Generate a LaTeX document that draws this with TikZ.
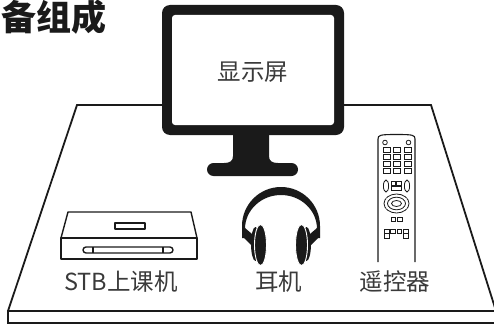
\documentclass[tikz,border=0pt]{standalone}
\usepackage{fontspec}
\usetikzlibrary{calc}
\newfontfamily\cjk{Noto Sans CJK SC}
\definecolor{ink}{HTML}{1A1A1A}
\definecolor{labelgray}{HTML}{3A3A3A}
\begin{document}
\begin{tikzpicture}[x=1pt,y=-1pt,
  tableedge/.style={draw=ink, line width=1.8pt, line join=miter},
  caption/.style={font=\cjk\fontsize{23.5}{26}\selectfont, text=labelgray, inner sep=0pt},
  rline/.style={draw=ink, line width=1.1pt},
  btn/.style={draw=ink, line width=0.8pt},
  boxline/.style={draw=ink, line width=1.4pt, line join=round}]
\useasboundingbox (0,0) rectangle (494,326);

% heading
\node[anchor=base west, font=\cjk\bfseries\fontsize{35}{38}\selectfont, text=ink, inner sep=0pt] (title) at (1,31) {备组成};

% desk: top surface and front slab
\draw[tableedge] (8,311) -- (77,105) -- (431,105) -- (496,311);
\draw[tableedge] (8,311) rectangle (502,323);

% monitor frame, screen, neck and foot
\fill[ink, rounded corners=8] (162,5) rectangle (344,135);
\fill[white, rounded corners=3] (172,15) rectangle (334,125);
\fill[ink] (233,133) -- (233,156) .. controls (233,161) and (230,163) .. (224,163)
  -- (278,163) .. controls (272,163) and (269,161) .. (269,156) -- (269,133) -- cycle;
\fill[ink, rounded corners=6.5] (207,163) rectangle (298,176);
\node[caption] (screen) at (253,72) {显示屏};

% set-top box
\draw[boxline] (61,238) -- (68,212) -- (191,212) -- (197,238) -- cycle;
\draw[boxline] (61,238) rectangle (197,259);
\draw[boxline] (115,223) rectangle (145,229);
\draw[boxline, rounded corners=3] (83,247) rectangle (173,253);
\draw[ink, line width=1.2pt] (93,247) -- (93,253) (163,247) -- (163,253);
\node[caption] (stb) at (121,282) {STB上课机};

% headphones: headband
\fill[ink] (242,238) -- (242,226)
  arc[start angle=180, end angle=360, x radius=39, y radius=39]
  -- (320,238) -- (317,238) -- (317,229)
  arc[start angle=0, end angle=-180, x radius=36, y radius=34]
  -- (245,238) -- cycle;
\fill[ink] (242,236) -- (252,246) -- (252,234) -- (245,228) -- cycle;
\fill[ink] (320,236) -- (310,246) -- (310,234) -- (317,228) -- cycle;
% ear cups
\fill[ink] (255.5,244) ellipse[x radius=4.5, y radius=17];
\filldraw[fill=ink, draw=white, line width=0.9pt] (260.5,245) ellipse[x radius=6, y radius=20.5];
\fill[ink] (306.5,244) ellipse[x radius=4.5, y radius=17];
\filldraw[fill=ink, draw=white, line width=0.9pt] (301.5,245) ellipse[x radius=6, y radius=20.5];
\node[caption] (phones) at (278.5,282) {耳机};

% remote control
\draw[rline, fill=white] (378,262) -- (378,139) .. controls (378,135) and (380,134.5) .. (396.5,134.5)
  .. controls (413,134.5) and (415,135) .. (415,139) -- (415,262);
\draw[btn] (385,142.5) circle[radius=2.3];
\draw[btn] (408.5,142.5) circle[radius=2.3];
\foreach \r in {0,...,3}
  \foreach \c in {0,1,2}
    \draw[btn] ({383+\c*10.5},{147.5+\r*7}) rectangle ++(7,5.3);
\draw[btn] (386,186) ellipse[x radius=2.6, y radius=6];
\draw[btn] (407,186) ellipse[x radius=2.6, y radius=6];
\draw[btn] (391,181) rectangle (395.3,185);
\draw[btn] (396.7,181) rectangle (401,185);
\draw[btn] (391,186.3) rectangle (401,190.5);
\draw[btn] (396.5,203.5) ellipse[x radius=12.5, y radius=9.5];
\draw[btn] (396.5,203.5) ellipse[x radius=9, y radius=6.3];
\draw[btn] (396.5,203.5) ellipse[x radius=5, y radius=3];
\foreach \a in {35,145,215,325}
  \draw[white, line width=1.2pt] ($(396.5,203.5)+(\a:{9.6} and {6.8})$) -- ($(396.5,203.5)+(\a:{12} and {9})$);
\draw[btn] (391,217) rectangle (395.3,221);
\draw[btn] (397.7,217) rectangle (402,221);
\foreach \c in {0,...,3}
  \draw[btn] ({384.5+\c*6.2},229.5) rectangle ++(4.8,4.3);
\draw[btn] (384.5,233.8) rectangle ++(4.8,4.2);
\draw[btn] (403.1,233.8) rectangle ++(4.8,4.2);
\node[caption] (remote) at (395,282) {遥控器};
\end{tikzpicture}
\end{document}
